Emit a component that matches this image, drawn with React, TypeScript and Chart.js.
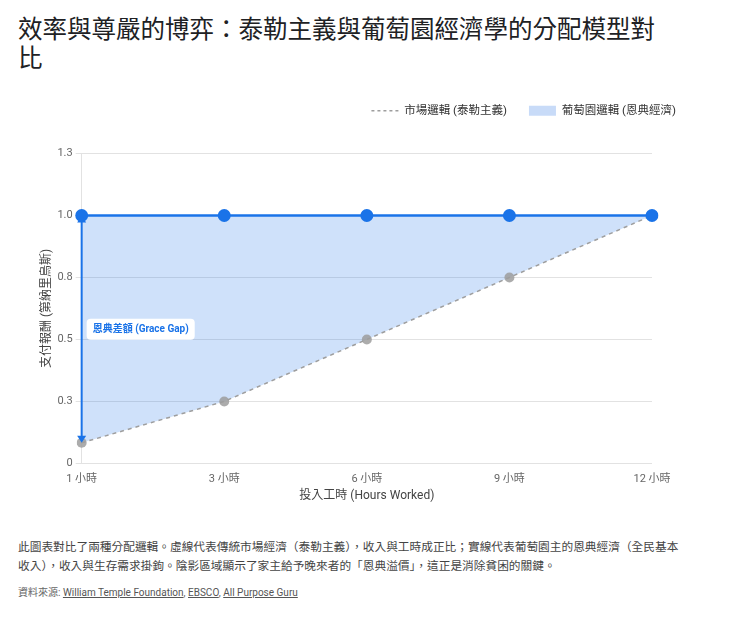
import React, { useEffect, useRef } from "react";
import { Chart, registerables } from "chart.js";

Chart.register(...registerables);

const hourLabels = ["1 小時", "3 小時", "6 小時", "9 小時", "12 小時"];
const marketValues = [0.083, 0.25, 0.5, 0.75, 1.0];
const vineyardValues = [1.0, 1.0, 1.0, 1.0, 1.0];
const yTickValues = [0, 0.25, 0.5, 0.75, 1.0, 1.25];
const yTickLabels = ["0", "0.3", "0.5", "0.8", "1.0", "1.3"];
const marketName = "市場邏輯 (泰勒主義)";
const vineyardName = "葡萄園邏輯 (恩典經濟)";
const gapLabel = "恩典差額 (Grace Gap)";

const BLUE = "#1a73e8";
const GREY = "#9e9e9e";
const FONT = "Roboto, 'Noto Sans CJK TC', sans-serif";

const legendSpacePlugin = {
  id: "legendSpace",
  beforeInit(chart: any) {
    const legend = chart.legend;
    if (!legend) return;
    const origFit = legend.fit;
    legend.fit = function () {
      origFit.call(this);
      this.height += 27;
    };
  },
};

const graceGapPlugin = {
  id: "graceGap",
  afterDatasetsDraw(chart: any) {
    const { ctx, scales } = chart;
    const x = scales.x.getPixelForValue(0);
    const yTop = scales.y.getPixelForValue(vineyardValues[0]);
    const yBot = scales.y.getPixelForValue(marketValues[0]);
    ctx.save();
    ctx.strokeStyle = BLUE;
    ctx.fillStyle = BLUE;
    ctx.lineWidth = 2;
    ctx.beginPath();
    ctx.moveTo(x, yTop + 4);
    ctx.lineTo(x, yBot - 4);
    ctx.stroke();
    const ah = 7;
    const aw = 4.5;
    ctx.beginPath();
    ctx.moveTo(x, yTop);
    ctx.lineTo(x - aw, yTop + ah);
    ctx.lineTo(x + aw, yTop + ah);
    ctx.closePath();
    ctx.fill();
    ctx.beginPath();
    ctx.moveTo(x, yBot);
    ctx.lineTo(x - aw, yBot - ah);
    ctx.lineTo(x + aw, yBot - ah);
    ctx.closePath();
    ctx.fill();
    const midY = (yTop + yBot) / 2;
    ctx.font = `bold 10px ${FONT}`;
    const tw = ctx.measureText(gapLabel).width;
    const bx = x + 5;
    const bw = tw + 12;
    const bh = 21;
    const by = midY - bh / 2;
    ctx.fillStyle = "#ffffff";
    ctx.beginPath();
    if (ctx.roundRect) ctx.roundRect(bx, by, bw, bh, 4);
    else ctx.rect(bx, by, bw, bh);
    ctx.fill();
    ctx.fillStyle = BLUE;
    ctx.textAlign = "left";
    ctx.textBaseline = "middle";
    ctx.fillText(gapLabel, bx + 6, midY + 0.5);
    ctx.restore();
  },
};

function ChartBox() {
  const ref = useRef<HTMLCanvasElement | null>(null);
  useEffect(() => {
    if (!ref.current) return;
    Chart.defaults.font.family = FONT;
    const chart = new Chart(ref.current, {
      type: "line",
      data: {
        labels: hourLabels,
        datasets: [
          {
            label: marketName,
            data: marketValues,
            order: 2,
            borderColor: GREY,
            borderWidth: 1.5,
            borderDash: [4, 4],
            pointRadius: 5,
            pointHoverRadius: 5,
            pointBackgroundColor: "rgba(158,158,158,0.85)",
            pointBorderWidth: 0,
            fill: false,
            tension: 0,
          },
          {
            label: vineyardName,
            data: vineyardValues,
            order: 1,
            borderColor: BLUE,
            borderWidth: 2.5,
            pointRadius: 6.5,
            pointHoverRadius: 6.5,
            pointBackgroundColor: BLUE,
            pointBorderWidth: 0,
            backgroundColor: "rgba(26,115,232,0.21)",
            fill: "-1",
            tension: 0,
          },
        ],
      },
      options: {
        responsive: false,
        animation: false,
        layout: { padding: { left: 14, right: 0, top: 0, bottom: 0 } },
        plugins: {
          filler: { drawTime: "beforeDatasetsDraw" },
          tooltip: { enabled: false },
          legend: {
            position: "top",
            align: "end",
            labels: {
              padding: 22,
              usePointStyle: true,
              pointStyleWidth: 27,
              boxHeight: 10,
              color: "#333",
              font: { size: 11.5, family: FONT },
              generateLabels: () => [
                {
                  text: marketName,
                  fillStyle: "transparent",
                  strokeStyle: GREY,
                  lineWidth: 1.5,
                  lineDash: [3, 3],
                  pointStyle: "line",
                  datasetIndex: 0,
                  hidden: false,
                  fontColor: "#333",
                },
                {
                  text: vineyardName,
                  fillStyle: "#c8dbf8",
                  strokeStyle: "#c8dbf8",
                  lineWidth: 0,
                  pointStyle: "rect",
                  datasetIndex: 1,
                  hidden: false,
                  fontColor: "#333",
                },
              ],
            },
          },
        },
        scales: {
          x: {
            type: "category",
            offset: false,
            grid: { display: false, tickLength: 6 },
            border: { display: false },
            ticks: { color: "#666", font: { size: 11 }, padding: 3, maxRotation: 0 },
            title: {
              display: true,
              text: "投入工時 (Hours Worked)",
              color: "#444",
              font: { size: 12 },
              padding: { top: 0, bottom: 3 },
            },
          },
          y: {
            min: 0,
            max: 1.25,
            afterBuildTicks: (scale: any) => {
              scale.ticks = yTickValues.map((v) => ({ value: v }));
            },
            ticks: {
              color: "#666",
              font: { size: 11 },
              padding: 3,
              callback: (_v: any, i: number) => yTickLabels[i],
            },
            grid: { color: "#e2e2e2", tickLength: 6, lineWidth: 1 },
            border: { display: true, color: "#e2e2e2" },
            title: {
              display: true,
              text: "支付報酬 (第納里烏斯)",
              color: "#444",
              font: { size: 12 },
              padding: { top: 8, bottom: 0 },
            },
          },
          y2: {
            position: "right",
            display: true,
            min: 0,
            max: 1.25,
            grid: { display: false, drawTicks: false },
            border: { display: false },
            ticks: { display: false },
            afterFit: (scale: any) => {
              scale.width = 46;
            },
          },
        },
      },
      plugins: [legendSpacePlugin, graceGapPlugin],
    } as any);
    return () => chart.destroy();
  }, []);
  return <canvas ref={ref} width={680} height={423} style={{ display: "block", width: 680, height: 423 }} />;
}

export default function App() {
  useEffect(() => {
    document.body.style.margin = "0";
  }, []);
  const linkStyle: React.CSSProperties = { color: "#555", textDecoration: "underline" };
  return (
    <div style={{ position: "relative", width: 740, height: 619, fontFamily: FONT, background: "#fff" }}>
      <div
        style={{
          position: "absolute",
          left: 18,
          top: 13,
          width: 650,
          fontSize: 24.5,
          lineHeight: "29px",
          color: "#202124",
          fontFamily: "'Noto Sans CJK TC', sans-serif",
        }}
      >
        效率與尊嚴的博弈：泰勒主義與葡萄園經濟學的分配模型對比
      </div>
      <div style={{ position: "absolute", left: 18, top: 83 }}>
        <ChartBox />
      </div>
      <div
        style={{
          position: "absolute",
          left: 18,
          top: 538,
          width: 664,
          fontSize: 11.7,
          lineHeight: "19px",
          color: "#444",
        }}
      >
        此圖表對比了兩種分配邏輯。虛線代表傳統市場經濟（泰勒主義），收入與工時成正比；實線代表葡萄園主的恩典經濟（全民基本收入），收入與生存需求掛鉤。陰影區域顯示了家主給予晚來者的「恩典溢價」，這正是消除貧困的關鍵。
      </div>
      <div
        style={{
          position: "absolute",
          left: 18,
          top: 586,
          fontSize: 10,
          lineHeight: "14px",
          color: "#666",
        }}
      >
        資料來源: <a style={linkStyle}>William Temple Foundation</a>, <a style={linkStyle}>EBSCO</a>,{" "}
        <a style={linkStyle}>All Purpose Guru</a>
      </div>
    </div>
  );
}
